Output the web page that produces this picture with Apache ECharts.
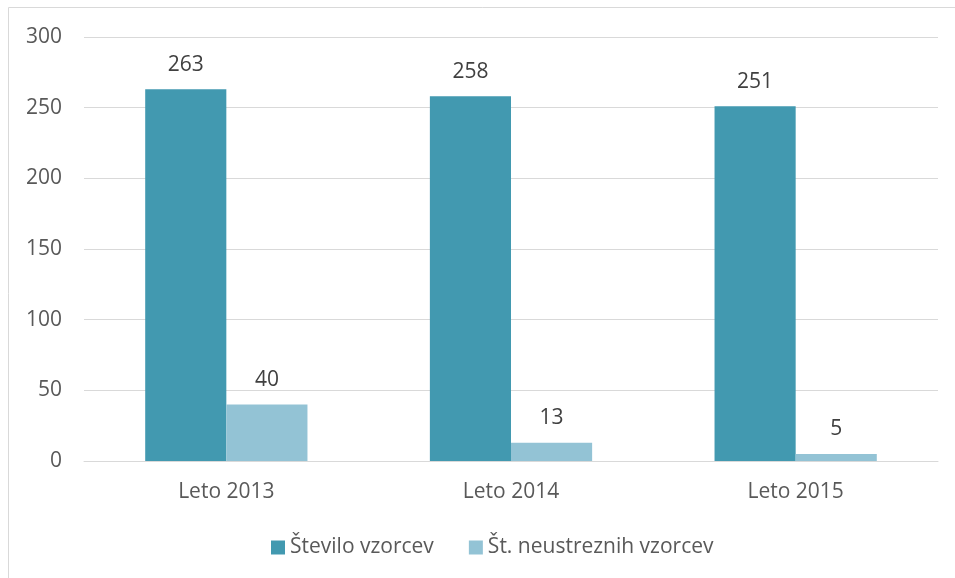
<!DOCTYPE html>
<html lang="sl">
<head>
    <meta charset="UTF-8">
    <title>Vzorci</title>
    <script src="https://cdn.jsdelivr.net/npm/echarts@6/dist/echarts.min.js"></script>
    <style>
        body { margin: 0; background: #fff; }
    </style>
</head>
<body>
    <div id="box" style="width: 955px; height: 578px;"></div>
    <script>
        // podatki
        var leta = ['Leto 2013', 'Leto 2014', 'Leto 2015'];
        var steviloVzorcev = [263, 258, 251];
        var neustrezniVzorci = [40, 13, 5];
        var imenaSerij = ['Število vzorcev', 'Št. neustreznih vzorcev'];

        var myEcharts = echarts.init(document.getElementById('box'));
        var font = 'Open Sans, Noto Sans, sans-serif';

        var option = {
            animation: false,
            textStyle: { fontFamily: font },
            graphic: [{
                // okvir grafikona
                type: 'rect',
                shape: { x: 8.5, y: 7.5, width: 1000, height: 700 },
                style: { fill: 'none', stroke: '#d9d9d9', lineWidth: 1 },
                silent: true
            }],
            grid: { left: 84, right: 17, top: 37, bottom: 117, containLabel: false },
            legend: {
                bottom: 15,
                left: 266,
                itemWidth: 14,
                itemHeight: 14,
                itemGap: 35,
                icon: 'rect',
                textStyle: { fontSize: 21, color: '#595959', fontFamily: font },
                data: imenaSerij
            },
            xAxis: {
                type: 'category',
                data: leta,
                axisLine: { lineStyle: { color: '#d9d9d9' } },
                axisTick: { show: false },
                axisLabel: { fontSize: 21, color: '#595959', margin: 21 }
            },
            yAxis: {
                type: 'value',
                min: 0,
                max: 300,
                interval: 50,
                axisLine: { show: false },
                axisTick: { show: false },
                axisLabel: { fontSize: 21, color: '#595959', margin: 22 },
                splitLine: { lineStyle: { color: '#d9d9d9' } }
            },
            series: [{
                name: imenaSerij[0],
                type: 'bar',
                data: steviloVzorcev,
                barGap: '0%',
                barCategoryGap: '43%',
                itemStyle: { color: '#4299b0' },
                label: { show: true, position: 'top', distance: 14, fontSize: 21, color: '#404040' }
            }, {
                name: imenaSerij[1],
                type: 'bar',
                data: neustrezniVzorci,
                itemStyle: { color: '#93c3d5' },
                label: { show: true, position: 'top', distance: 14, fontSize: 21, color: '#404040' }
            }]
        };
        myEcharts.setOption(option);
    </script>
</body>
</html>
